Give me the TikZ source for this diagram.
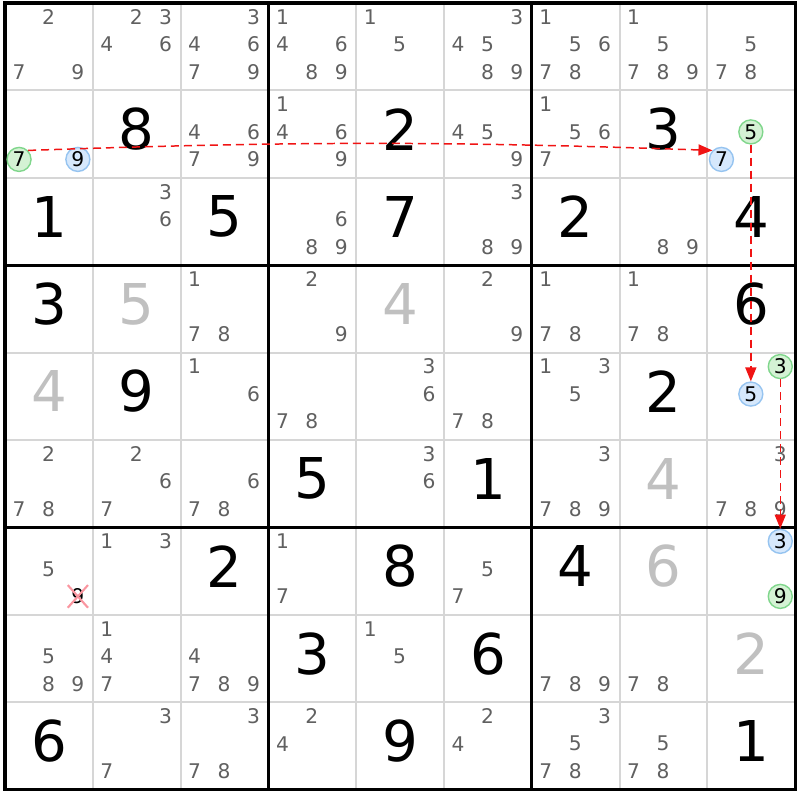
\documentclass[tikz,border=0pt]{standalone}
\usepackage{fontspec}
\setmainfont{DejaVu Sans}
\usetikzlibrary{
	arrows.meta,
	shapes.misc
}
\definecolor{candgray}{RGB}{96,96,96}
\definecolor{solvedgray}{RGB}{192,192,192}
\definecolor{thingrid}{RGB}{214,214,214}
\definecolor{onfill}{RGB}{212,242,212}
\definecolor{ondraw}{RGB}{128,214,140}
\definecolor{offfill}{RGB}{214,232,252}
\definecolor{offdraw}{RGB}{150,196,240}
\definecolor{linkred}{RGB}{240,20,20}
\definecolor{crosspink}{RGB}{250,150,160}
\tikzset{
	given/.style={
		font=\fontsize{32}{32}\selectfont,
		text=black,
		inner sep=0pt
	},
	solved/.style={
		given,
		text=solvedgray
	},
	cand/.style={
		font=\fontsize{11.5}{11.5}\selectfont,
		text=candgray,
		inner sep=0pt
	},
	oncand/.style={
		cand,
		text=black,
		circle,
		draw=ondraw,
		fill=onfill,
		line width=0.8pt,
		minimum size=0.48cm
	},
	offcand/.style={
		oncand,
		draw=offdraw,
		fill=offfill
	},
	xcand/.style={
		cand,
		text=black,
		cross out,
		draw=crosspink,
		line width=1.2pt,
		inner sep=1.5pt
	},
	thinline/.style={
		draw=thingrid,
		line width=1.1pt
	},
	boxline/.style={
		draw=black,
		line width=1.8pt
	},
	link/.style={
		draw=linkred,
		line width=0.85pt,
		dash pattern=on 0.16cm off 0.1cm,
		-{Triangle[length=0.28cm,width=0.22cm]}
	}
}

\begin{document}
\begin{tikzpicture}[x=1.756cm,y=-1.748cm]
		\useasboundingbox (-0.057,-0.034) rectangle (9.055,9.119);

		\foreach \i in {1,2,4,5,7,8}
			\draw[thinline] (\i,0) -- (\i,9) (0,\i) -- (9,\i);
		\foreach \i in {3,6}
			\draw[boxline] (\i,0) -- (\i,9) (0,\i) -- (9,\i);
		\draw[boxline] (0,0) rectangle (9,9);

		\foreach \r/\c/\d in {2/2/8, 2/5/2, 2/8/3, 3/1/1, 3/3/5, 3/5/7, 3/7/2, 3/9/4,
			4/1/3, 4/9/6, 5/2/9, 5/8/2, 6/4/5, 6/6/1, 7/3/2, 7/5/8, 7/7/4,
			8/4/3, 8/6/6, 9/1/6, 9/5/9, 9/9/1}
			\node[given] (g\r\c) at (\c-0.5,\r-0.555) {\d};

		\foreach \r/\c/\d in {4/2/5, 4/5/4, 5/1/4, 6/8/4, 7/8/6, 8/9/2}
			\node[solved] (g\r\c) at (\c-0.5,\r-0.555) {\d};

		\foreach \r/\c/\ds in {1/1/{2,7,9}, 1/2/{2,3,4,6}, 1/3/{3,4,6,7,9}, 1/4/{1,4,6,8,9},
			1/5/{1,5}, 1/6/{3,4,5,8,9}, 1/7/{1,5,6,7,8}, 1/8/{1,5,7,8,9}, 1/9/{5,7,8},
			2/3/{4,6,7,9}, 2/4/{1,4,6,9}, 2/6/{4,5,9}, 2/7/{1,5,6,7},
			3/2/{3,6}, 3/4/{6,8,9}, 3/6/{3,8,9}, 3/8/{8,9},
			4/3/{1,7,8}, 4/4/{2,9}, 4/6/{2,9}, 4/7/{1,7,8}, 4/8/{1,7,8},
			5/3/{1,6}, 5/4/{7,8}, 5/5/{3,6}, 5/6/{7,8}, 5/7/{1,3,5},
			6/1/{2,7,8}, 6/2/{2,6,7}, 6/3/{6,7,8}, 6/5/{3,6}, 6/7/{3,7,8,9}, 6/9/{3,7,8,9},
			7/1/{5}, 7/2/{1,3}, 7/4/{1,7}, 7/6/{5,7},
			8/1/{5,8,9}, 8/2/{1,4,7}, 8/3/{4,7,8,9}, 8/5/{1,5}, 8/7/{7,8,9}, 8/8/{7,8},
			9/2/{3,7}, 9/3/{3,7,8}, 9/4/{2,4}, 9/6/{2,4}, 9/7/{3,5,7,8}, 9/8/{5,7,8}}
			\foreach \d in \ds
				\node[cand] (k\r\c\d) at ({\c-1+0.16+0.335*mod(\d-1,3)},{\r-1+0.16+0.315*div(\d-1,3)}) {\d};

		\foreach \r/\c/\d/\kind in {2/1/7/oncand, 2/1/9/offcand, 2/9/5/oncand, 2/9/7/offcand,
			5/9/3/oncand, 5/9/5/offcand, 7/9/3/offcand, 7/9/9/oncand, 7/1/9/xcand}
			\node[\kind] (k\r\c\d) at ({\c-1+0.16+0.335*mod(\d-1,3)},{\r-1+0.16+0.315*div(\d-1,3)}) {\d};

		\draw[link] (k217.north east) to[bend left=2] (k297.north west);
		\draw[link] (k295) -- (k595);
		\draw[link] (k593) -- (k793);
	\end{tikzpicture}
\end{document}
